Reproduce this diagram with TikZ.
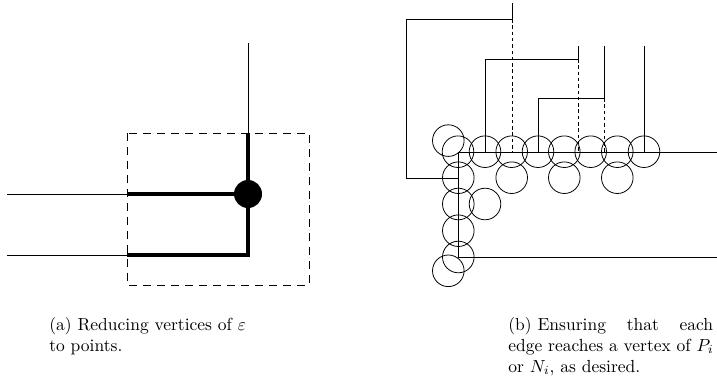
\documentclass[tikz,border=0pt]{standalone}
\usetikzlibrary{calc}
\begin{document}
\begin{tikzpicture}[x=0.5714pt,y=-0.5714pt,
  thin line/.style={line width=0.45pt},
  thick line/.style={line width=2.3pt},
  boxdash/.style={line width=0.45pt,dash pattern=on 4.6pt off 3.4pt},
  shortdash/.style={line width=0.45pt,dash pattern=on 2pt off 1.6pt},
  ring/.style={line width=0.45pt},
  captext/.style={inner sep=0pt,anchor=base west,font=\fontsize{10}{12}\selectfont}]
\useasboundingbox (0,0) rectangle (717,392);
% ---------- (a) ----------
\coordinate (vtop) at (248,43);
\coordinate (boxtop) at (248,133);
\coordinate (v) at (248,194);
\coordinate (b1) at (248,255);
\coordinate (l1) at (7,194);
\coordinate (l2) at (7,255);
\coordinate (e1) at (127,194);
\coordinate (e2) at (127,255);
\draw[boxdash] (127,133) rectangle (309,285);
\draw[thin line] (vtop) -- (boxtop);
\draw[thin line] (l1) -- (e1);
\draw[thin line] (l2) -- (e2);
\draw[thick line] (boxtop) -- (v);
\draw[thick line] (e1) -- (v);
\draw[thick line,line join=miter] (e2) -- (b1) -- (v);
\fill (v) circle[radius=14];
% ---------- (b) ----------
% main L-shaped lines
\draw[thin line] (458,152) -- (717,152);
\draw[thin line] (458,152) -- (458,257) -- (717,257);
% outer bracket
\draw[thin line] (512,3) -- (512,19) -- (406,19) -- (406,178) -- (458,178);
\draw[shortdash] (512,19) -- (512,152);
% second bracket
\draw[thin line] (578,46) -- (578,59) -- (485,59) -- (485,152);
\draw[shortdash] (578,59) -- (578,152);
% third bracket
\draw[thin line] (604,46) -- (604,98) -- (538,98) -- (538,152);
\draw[shortdash] (604,98) -- (604,152);
% fourth
\draw[thin line] (644,46) -- (644,152);
% circles
\foreach \cx in {458,485,511.7,538,564.3,590.7,617.3,644}
  \draw[ring] (\cx,151.7) circle[radius=15.8];
\foreach \cx in {511.7,564.3,617.3}
  \draw[ring] (\cx,177.7) circle[radius=15.8];
\foreach \cy in {177.7,204,230.7,257}
  \draw[ring] (458.3,\cy) circle[radius=15.8];
\draw[ring] (485,204) circle[radius=15.8];
\draw[ring] (448.3,140.6) circle[radius=15.8];
\draw[ring] (448.3,270.8) circle[radius=15.8];
% ---------- captions ----------
\node[captext] (ca1) at (49,330) {(a)\hskip 3.33pt Reducing vertices of $\varepsilon$};
\node[captext] (ca2) at (49,351) {to points.};
\node[captext] (cb1) at (508,330) {\makebox[117pt][s]{(b)\hskip 3.33pt Ensuring that each}};
\node[captext] (cb2) at (508,351) {edge reaches a vertex of $P_i$};
\node[captext] (cb3) at (508,372) {or $N_i$, as desired.};
\end{tikzpicture}
\end{document}
